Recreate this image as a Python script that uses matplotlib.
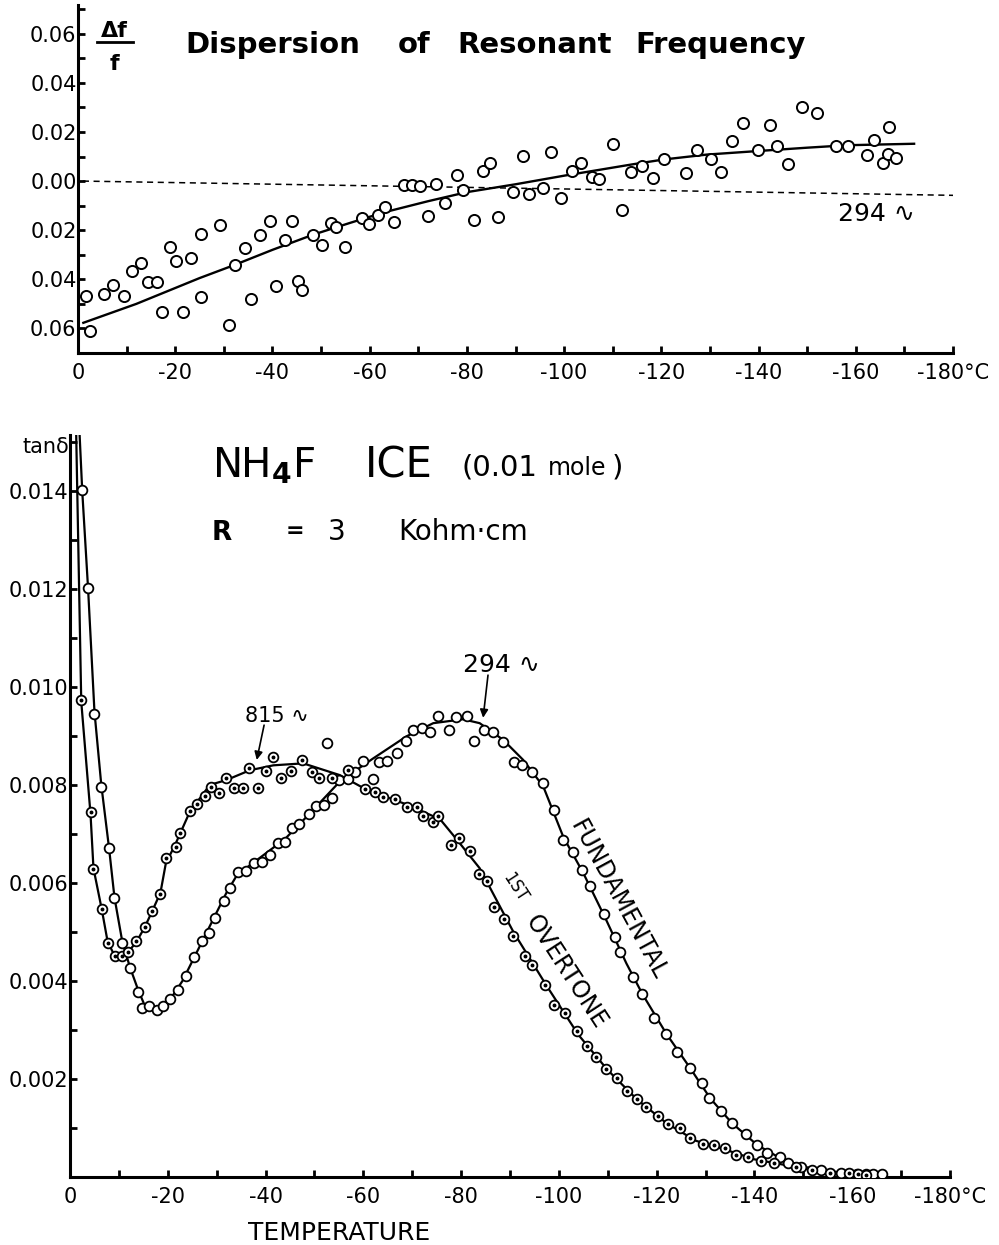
import numpy as np
import matplotlib
matplotlib.use("Agg")
import matplotlib.pyplot as plt
from matplotlib.lines import Line2D

W, H = 999, 1245

# ---- upper panel: dispersion of resonant frequency (294 c/s) ----
disp_temp = [-1.6, -2.5, -5.4, -7.3, -9.5, -11.2, -13.0, -14.5, -16.3, -17.2,
             -18.9, -20.2, -21.5, -23.2, -25.4, -25.4, -29.2, -31.1, -32.2, -34.3,
             -35.6, -37.4, -39.4, -40.7, -42.5, -44.0, -45.2, -46.0, -48.4, -50.2,
             -52.1, -53.1, -54.9, -58.4, -59.8, -61.8, -63.1, -65.1, -67.1, -68.8,
             -70.4, -72.0, -73.6, -75.4, -77.9, -79.2, -81.4, -83.4, -84.8, -86.3,
             -89.4, -91.5, -92.7, -95.6, -97.3, -99.3, -101.6, -103.4, -105.8, -107.1,
             -110.0, -112.0, -113.7, -116.1, -118.3, -120.5, -125.1, -127.4, -130.2, -132.2,
             -134.6, -136.9, -139.8, -142.4, -143.7, -146.0, -149.0, -152.0, -156.0, -158.5,
             -162.3, -163.8, -165.7, -166.7, -166.9, -168.3]
disp_df = [-0.0467, -0.0609, -0.0460, -0.0422, -0.0467, -0.0365, -0.0334, -0.0412, -0.0412, -0.0534,
           -0.0270, -0.0325, -0.0534, -0.0315, -0.0216, -0.0473, -0.0180, -0.0585, -0.0341, -0.0273,
           -0.0480, -0.0218, -0.0162, -0.0428, -0.0241, -0.0162, -0.0407, -0.0443, -0.0220, -0.0260,
           -0.0172, -0.0187, -0.0269, -0.0149, -0.0173, -0.0139, -0.0104, -0.0165, -0.0016, -0.0016,
           -0.0020, -0.0142, -0.0011, -0.0088, 0.0024, -0.0038, -0.0158, 0.0043, 0.0075, -0.0146,
           -0.0043, 0.0101, -0.0054, -0.0027, 0.0119, -0.0069, 0.0043, 0.0075, 0.0018, 0.0007,
           0.0152, -0.0119, 0.0037, 0.0061, 0.0011, 0.0088, 0.0034, 0.0125, 0.0091, 0.0037,
           0.0162, 0.0237, 0.0125, 0.0230, 0.0142, 0.0068, 0.0300, 0.0277, 0.0142, 0.0142,
           0.0108, 0.0166, 0.0075, 0.0111, 0.0219, 0.0092]
fit_temp = [-1.1, -12, -25, -32, -40, -48.4, -56, -63, -72, -80, -90, -100,
            -114, -120.5, -129.4, -139.6, -150, -158.2, -172]
fit_df = [-0.0577, -0.0500, -0.0395, -0.0343, -0.0280, -0.0218, -0.0170, -0.0127, -0.0082,
          -0.0045, -0.0013, 0.0022, 0.0068, 0.0088, 0.0108, 0.0122, 0.0136, 0.0146, 0.0152]
ref_temp = [-1, -180]
ref_df = [0.0, -0.0058]

# ---- lower panel: tan delta, NH4F ice ----
fund_temp = [-2.5, -3.7, -5.0, -6.4, -8.0, -9.1, -10.7, -12.3, -14.0, -14.7,
             -16.2, -17.7, -19.1, -20.4, -22.0, -23.7, -25.4, -26.9, -28.5, -29.7,
             -31.6, -32.7, -34.4, -36.1, -37.7, -39.2, -41.0, -42.6, -44.0, -45.5,
             -46.8, -48.9, -50.4, -51.9, -53.5, -55.1, -56.9, -58.3, -59.9, -62.0,
             -63.3, -64.9, -66.9, -68.7, -70.2, -71.9, -73.6, -75.3, -77.6, -78.9,
             -81.3, -82.7, -84.7, -86.6, -88.5, -90.9, -92.4, -94.6, -96.8, -99.0,
             -100.9, -102.8, -104.8, -106.3, -109.2, -111.5, -112.6, -115.2, -117.1, -119.5,
             -122.0, -124.1, -126.8, -129.2, -130.7, -133.1, -135.4, -138.2, -140.6, -142.5,
             -145.3, -146.9, -149.6, -153.7, -157.8, -160.9, -162.9, -164.3, -166.0, -52.5]
fund_tan = [0.01402, 0.01202, 0.00945, 0.00796, 0.00671, 0.00569, 0.00477, 0.00427, 0.00378, 0.00344,
            0.00348, 0.00341, 0.00348, 0.00363, 0.00382, 0.00411, 0.00448, 0.00482, 0.00497, 0.00528,
            0.00564, 0.00590, 0.00622, 0.00624, 0.00640, 0.00642, 0.00657, 0.00682, 0.00684, 0.00712,
            0.00720, 0.00740, 0.00756, 0.00759, 0.00773, 0.00810, 0.00812, 0.00827, 0.00848, 0.00812,
            0.00846, 0.00849, 0.00866, 0.00890, 0.00912, 0.00916, 0.00909, 0.00941, 0.00912, 0.00938,
            0.00940, 0.00890, 0.00912, 0.00909, 0.00887, 0.00846, 0.00841, 0.00826, 0.00804, 0.00749,
            0.00688, 0.00664, 0.00627, 0.00594, 0.00536, 0.00489, 0.00460, 0.00409, 0.00373, 0.00325,
            0.00292, 0.00256, 0.00223, 0.00191, 0.00162, 0.00135, 0.00110, 0.00087, 0.00065, 0.00048,
            0.00041, 0.00028, 0.00021, 0.00014, 0.00008, 0.00006, 0.00006, 0.00006, 0.00006, 0.00886]
over_temp = [-2.3, -4.2, -4.8, -6.5, -7.7, -9.2, -10.6, -11.9, -13.6, -15.3,
             -16.7, -18.5, -19.6, -21.6, -22.6, -24.5, -26.0, -27.6, -28.8, -30.5,
             -32.0, -33.6, -35.3, -36.6, -38.5, -40.1, -41.6, -43.1, -45.2, -47.4,
             -49.4, -51.0, -53.5, -56.9, -60.3, -62.4, -64.1, -66.5, -68.9, -70.9,
             -72.2, -74.3, -75.3, -77.9, -79.6, -81.8, -83.6, -85.2, -86.7, -88.8,
             -90.7, -93.0, -94.6, -97.1, -99.0, -101.2, -103.7, -105.7, -107.6, -109.6,
             -111.8, -114.0, -115.9, -117.8, -120.2, -122.4, -124.7, -126.9, -129.4, -131.7,
             -133.9, -136.2, -138.7, -141.3, -144.0, -148.5, -151.7, -155.4, -159.4, -161.2,
             -162.9]
over_tan = [0.00973, 0.00744, 0.00629, 0.00546, 0.00478, 0.00450, 0.00450, 0.00459, 0.00482, 0.00510,
            0.00543, 0.00578, 0.00650, 0.00674, 0.00701, 0.00747, 0.00762, 0.00777, 0.00795, 0.00784,
            0.00815, 0.00793, 0.00793, 0.00835, 0.00793, 0.00829, 0.00856, 0.00815, 0.00829, 0.00851,
            0.00827, 0.00815, 0.00815, 0.00831, 0.00791, 0.00786, 0.00775, 0.00771, 0.00754, 0.00754,
            0.00737, 0.00724, 0.00737, 0.00678, 0.00692, 0.00666, 0.00618, 0.00604, 0.00550, 0.00526,
            0.00492, 0.00451, 0.00432, 0.00392, 0.00350, 0.00334, 0.00297, 0.00268, 0.00244, 0.00220,
            0.00201, 0.00176, 0.00159, 0.00143, 0.00124, 0.00108, 0.00099, 0.00079, 0.00067, 0.00065,
            0.00059, 0.00045, 0.00040, 0.00033, 0.00028, 0.00021, 0.00014, 0.00009, 0.00008, 0.00006,
            0.00004]

# hand drawn curves
fund_curve_temp = [-1.8, -2.5, -3.7, -5.0, -6.4, -8.0, -9.1, -10.7, -12.3, -14.0, -15.2, -16.5,
                   -18, -19.5, -21, -23, -25.4, -27, -29.5, -32, -34.4, -36, -40, -44, -48.4,
                   -55.2, -62, -68.8, -74.3, -80.4, -83.8, -88.6, -92.7, -96.8, -100.9, -105,
                   -109.7, -113.8, -117.1, -122, -126.8, -131, -135.4, -140.6, -145, -150, -155,
                   -160, -166]
fund_curve_tan = [0.0155, 0.0140, 0.0120, 0.0095, 0.0080, 0.0067, 0.0057, 0.0048, 0.00427, 0.0038,
                  0.00352, 0.00343, 0.00342, 0.00348, 0.0037, 0.0040, 0.00448, 0.0048, 0.0053,
                  0.0058, 0.0062, 0.0063, 0.0066, 0.0069, 0.00735, 0.00807, 0.00854, 0.00899,
                  0.00926, 0.00934, 0.00926, 0.00892, 0.00851, 0.00797, 0.00694, 0.0062, 0.00524,
                  0.00436, 0.00373, 0.00292, 0.00223, 0.0016, 0.0011, 0.00065, 0.0004, 0.00021,
                  0.00012, 0.00007, 0.00006]
over_curve_temp = [-1.2, -2.3, -4.2, -4.8, -6.5, -7.7, -9.2, -10.6, -11.9, -13.6, -15.3, -16.7,
                   -18.5, -19.6, -21.6, -24.5, -28.6, -32, -36.8, -41.6, -47.7, -55.2, -60.7,
                   -68.9, -75.7, -79, -83.8, -90.7, -97.5, -104, -110, -116, -122, -128, -134,
                   -140, -146, -152, -158, -163]
over_curve_tan = [0.0155, 0.0097, 0.0074, 0.0063, 0.00546, 0.0048, 0.0045, 0.00447, 0.00459,
                  0.0048, 0.0051, 0.0054, 0.0058, 0.0064, 0.0068, 0.00745, 0.0080, 0.0081, 0.0083,
                  0.0084, 0.00844, 0.0082, 0.0079, 0.0076, 0.0073, 0.0069, 0.0063, 0.0050, 0.0039,
                  0.0029, 0.00218, 0.00158, 0.0011, 0.00074, 0.00056, 0.00036, 0.00025, 0.00014,
                  0.00008, 0.00004]

xtick_vals = [0, -20, -40, -60, -80, -100, -120, -140, -160, -180]
xtick_labels = ["0", "-20", "-40", "-60", "-80", "-100", "-120", "-140", "-160", "-180°C"]
top_ytick_vals = [0.06, 0.04, 0.02, 0.0, -0.02, -0.04, -0.06]
top_ytick_labels = ["0.06", "0.04", "0.02", "0.00", "0.02", "0.04", "0.06"]
bot_ytick_vals = [0.014, 0.012, 0.010, 0.008, 0.006, 0.004, 0.002]
bot_ytick_labels = ["0.014", "0.012", "0.010", "0.008", "0.006", "0.004", "0.002"]


def fx(x):
    return x / W


def fy(y):
    return 1 - y / H


def box(left, top, right, bottom):
    return [left / W, 1 - bottom / H, (right - left) / W, (bottom - top) / H]


def style(ax):
    for s in ("top", "right"):
        ax.spines[s].set_visible(False)
    for s in ("left", "bottom"):
        ax.spines[s].set_linewidth(2.2)
    ax.tick_params(which="both", direction="in", length=5, width=2)
    ax.tick_params(axis="x", pad=7, labelsize=15)
    ax.tick_params(axis="y", pad=1, labelsize=15)
    ax.set_xticks(xtick_vals)
    ax.set_xticklabels(xtick_labels)
    ax.set_xticks(np.arange(0, -181, -10), minor=True)


fig = plt.figure(figsize=(W / 100, H / 100), dpi=100)

# ---------------- upper panel ----------------
ax1 = fig.add_axes(box(78, 5, 953, 353))
style(ax1)
ax1.set_xlim(0, -180)
ax1.set_ylim(-0.0695, 0.0717)
ax1.set_yticks(top_ytick_vals)
ax1.set_yticklabels(top_ytick_labels)
ax1.set_yticks(np.arange(-0.07, 0.071, 0.01), minor=True)

ax1.plot(ref_temp, ref_df, color="black", lw=1.1, ls=(0, (4, 3)), zorder=1)
ax1.plot(fit_temp, fit_df, color="black", lw=1.7, zorder=2)
ax1.plot(disp_temp, disp_df, ls="none", marker="o", ms=8, mfc="white",
         mec="black", mew=1.4, zorder=3, clip_on=False)
ax1.text(-164.2, -0.01635, "294 ∿", fontsize=18, ha="center", va="baseline")

fig.text(fx(185), fy(53), "Dispersion", fontsize=21, fontweight="bold", va="baseline")
fig.text(fx(398), fy(53), "of", fontsize=21, fontweight="bold", va="baseline")
fig.text(fx(457), fy(53), "Resonant", fontsize=21, fontweight="bold", va="baseline")
fig.text(fx(635), fy(53), "Frequency", fontsize=21, fontweight="bold", va="baseline")
fig.text(fx(114), fy(37), "Δf", fontsize=16, fontweight="bold", ha="center", va="baseline")
fig.add_artist(Line2D([fx(97), fx(133)], [fy(42), fy(42)], color="black", lw=2))
fig.text(fx(114), fy(70), "f", fontsize=16, fontweight="bold", ha="center", va="baseline")

# ---------------- lower panel ----------------
ax2 = fig.add_axes(box(70, 435, 950, 1177))
style(ax2)
ax2.set_xlim(0, -180)
ax2.set_ylim(0, 0.01514)
ax2.set_yticks(bot_ytick_vals)
ax2.set_yticklabels(bot_ytick_labels)
ax2.set_yticks(np.arange(0.001, 0.0151, 0.001), minor=True)

ax2.plot(fund_curve_temp, fund_curve_tan, color="black", lw=1.6, zorder=2)
ax2.plot(over_curve_temp, over_curve_tan, color="black", lw=1.6, zorder=2)
ax2.plot(fund_temp, fund_tan, ls="none", marker="o", ms=7, mfc="white",
         mec="black", mew=1.3, zorder=3)
ax2.plot(over_temp, over_tan, ls="none", marker="o", ms=7, mfc="white",
         mec="black", mew=1.3, zorder=3)
ax2.plot(over_temp, over_tan, ls="none", marker="o", ms=1.8, color="black", zorder=4)

arrow = dict(arrowstyle="-|>", color="black", lw=1.2, mutation_scale=12,
             shrinkA=0, shrinkB=0)
ax2.annotate("", xy=(-38.2, 0.00851), xytext=(-39.7, 0.00922), arrowprops=arrow)
ax2.annotate("", xy=(-84.5, 0.00937), xytext=(-85.5, 0.01024), arrowprops=arrow)
ax2.text(-42.3, 0.00929, "815 ∿", fontsize=15, ha="center", va="baseline")
ax2.text(-88.3, 0.01031, "294 ∿", fontsize=18, ha="center", va="baseline")
ax2.text(-112.1, 0.00565, "FUNDAMENTAL", fontsize=17, rotation=-61.5,
         rotation_mode="anchor", ha="center", va="center")
ax2.text(-101.4, 0.00418, "OVERTONE", fontsize=17, rotation=-57,
         rotation_mode="anchor", ha="center", va="center")
ax2.text(-91.0, 0.0059, "1ST", fontsize=12, rotation=-57,
         rotation_mode="anchor", ha="center", va="center")

fig.text(fx(69), fy(453), "tanδ", fontsize=15, ha="right", va="baseline")
fig.text(fx(212), fy(477), r"NH$_{\mathbf{4}}$F", fontsize=29, va="baseline")
fig.text(fx(365), fy(477), "ICE", fontsize=30, va="baseline")
fig.text(fx(462), fy(475), "(0.01", fontsize=21, va="baseline")
fig.text(fx(548), fy(475), "mole", fontsize=17, va="baseline")
fig.text(fx(612), fy(475), ")", fontsize=21, va="baseline")
fig.text(fx(212), fy(540), "R", fontsize=19, fontweight="bold", va="baseline")
fig.text(fx(286), fy(537), "=", fontsize=16, fontweight="bold", va="baseline")
fig.text(fx(328), fy(540), "3", fontsize=20, va="baseline")
fig.text(fx(398), fy(540), "Kohm·cm", fontsize=20, va="baseline")
fig.text(fx(339), fy(1240), "TEMPERATURE", fontsize=18, ha="center", va="baseline")

fig.savefig("out.png", dpi=100, facecolor="white")
